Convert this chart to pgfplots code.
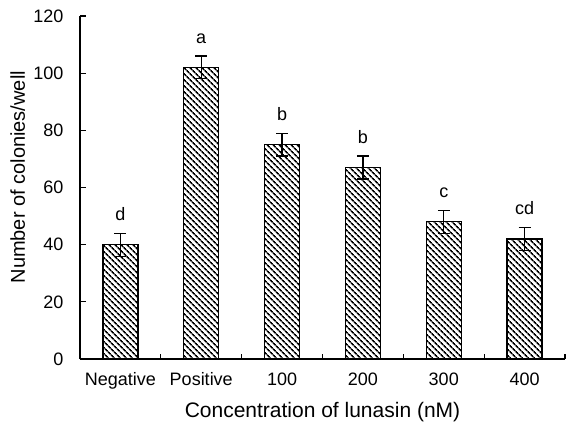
\documentclass[border=0pt]{standalone}
\usepackage{pgfplots}
\usepackage{pgfplotstable}
\pgfplotsset{compat=1.18}
\usepackage{fontspec}
\setmainfont{Liberation Sans}
\usetikzlibrary{patterns.meta}

\pgfplotstableread{
x y err
0 40 4
1 102 4
2 75 4
3 67 4
4 48 4
5 42 4
}\bars

\pgfplotstableread{
x y lab
0 48.5 d
1 110.5 a
2 83.5 b
3 75.5 b
4 56.5 c
5 50.5 cd
}\labs

\begin{document}
\begin{tikzpicture}
\begin{axis}[
  name=ax,
  scale only axis,
  width=485pt, height=343pt,
  xmin=-0.5, xmax=5.5,
  ymin=0, ymax=120,
  ytick={0,20,...,120},
  xtick={0,...,5},
  xticklabels={Negative,Positive,100,200,300,400},
  minor xtick={0.5,1.5,...,5.5},
  axis lines*=left,
  axis line style={line width=1.3pt},
  tick align=inside,
  major tick length=6pt,
  minor tick length=5pt,
  major x tick style={draw=none},
  minor x tick style={line width=1.1pt, black},
  ytick style={line width=1.1pt, black},
  /pgf/number format/assume math mode=true,
  tick label style={font=\fontsize{18}{21}\selectfont},
  yticklabel style={xshift=-13pt},
  xticklabel style={yshift=-10pt},
  xlabel={Concentration of lunasin (nM)},
  ylabel={Number of colonies/well},
  xlabel style={font=\fontsize{21}{25}\selectfont, at={(axis description cs:0.5,0)}, anchor=base, yshift=-58pt},
  ylabel style={font=\fontsize{20}{24}\selectfont, at={(axis description cs:-0.1134,0.53)}, anchor=base},
  clip=false,
]
\addplot[ybar, bar width=35pt, draw=black, line width=1.3pt,
  pattern={Lines[angle=-45, distance=4pt, line width=1.7pt]},
  error bars/.cd, y dir=both, y explicit,
  error bar style={line width=1.2pt, black},
  error mark options={rotate=90, mark size=6pt, line width=1.2pt, black}]
  table[x=x, y=y, y error=err] {\bars};
\addplot[draw=none, mark=none, nodes near coords, point meta=explicit symbolic,
  every node near coord/.append style={anchor=base, inner sep=0pt, font=\fontsize{18}{21}\selectfont}]
  table[x=x, y=y, meta=lab] {\labs};
\end{axis}
\pgfresetboundingbox
\path ([shift={(-80pt,-66pt)}]ax.south west) rectangle ([shift={(3pt,16pt)}]ax.north east);
\end{tikzpicture}
\end{document}
